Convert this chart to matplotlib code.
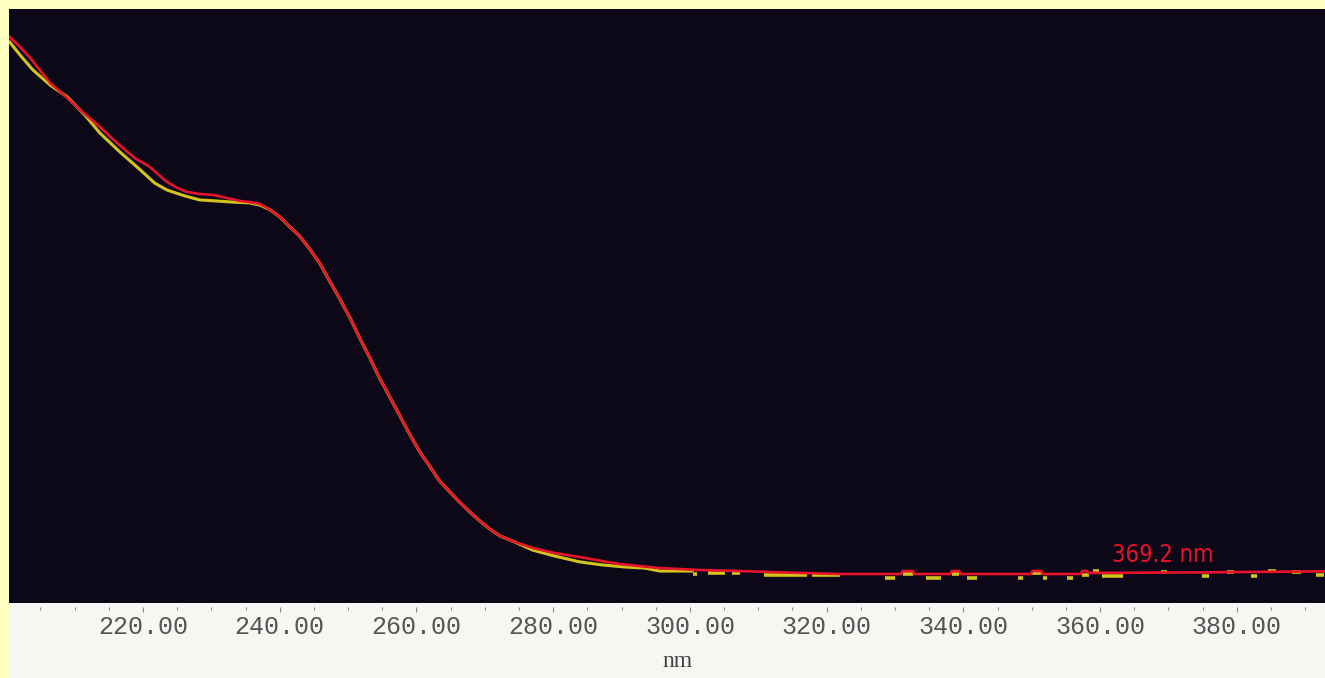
import matplotlib
matplotlib.use("Agg")
import matplotlib.pyplot as plt
from matplotlib.patches import Rectangle
from matplotlib.ticker import MultipleLocator, FormatStrFormatter

# ── data (absorbance in arbitrary units) ──────────────────────────────────────
red_nm = [200.5, 202.0, 203.5, 204.9, 206.4, 208.6, 210.8, 213.7, 216.2, 218.8,
          221.0, 222.5, 223.5, 225.0, 226.4, 228.3, 230.2, 232.3, 234.2, 235.6,
          237.1, 238.6, 240.0, 241.5, 242.9, 244.4, 245.9, 247.3, 248.8, 250.3,
          251.7, 253.2, 254.6, 256.1, 257.6, 259.0, 260.5, 262.0, 263.4, 264.9,
          266.3, 267.8, 269.3, 270.7, 272.2, 274.4, 277.0, 280.2, 283.9, 289.7,
          295.6, 301.4, 307.3, 316.0, 321.9,
          330.9, 331.1, 332.6, 332.8, 338.1, 338.3, 339.4, 339.6, 349.9, 350.1,
          351.4, 351.6, 357.2, 357.4, 358.1, 358.3, 375.0, 392.9]
red_abs = [2.000, 1.963, 1.922, 1.877, 1.829, 1.780, 1.728, 1.665, 1.605, 1.549,
           1.516, 1.482, 1.460, 1.438, 1.423, 1.415, 1.412, 1.400, 1.389, 1.385,
           1.378, 1.356, 1.330, 1.292, 1.259, 1.210, 1.155, 1.091, 1.024, 0.953,
           0.879, 0.804, 0.730, 0.659, 0.588, 0.521, 0.454, 0.399, 0.346, 0.305,
           0.268, 0.231, 0.197, 0.168, 0.142, 0.119, 0.097, 0.078, 0.063, 0.037,
           0.022, 0.015, 0.011, 0.004, 0.000,
           0.000, 0.011, 0.011, 0.000, 0.000, 0.011, 0.011, 0.000, 0.000, 0.011,
           0.011, 0.000, 0.000, 0.011, 0.011, 0.004, 0.006, 0.010]

yel_nm = [200.5, 202.0, 203.9, 206.4, 208.9, 211.5, 213.7, 216.6, 219.6, 221.7,
          223.5, 226.1, 228.3, 230.8, 233.1, 235.6, 237.1, 238.6, 240.0, 241.5,
          242.9, 244.4, 245.9, 247.3, 248.8, 250.3, 251.7, 253.2, 254.6, 256.1,
          257.6, 259.0, 260.5, 262.0, 263.4, 264.9, 266.3, 267.8, 269.3, 270.7,
          272.2, 274.4, 277.0, 280.2, 283.9, 287.1, 290.5, 293.4, 295.6, 300.3]
yel_abs = [1.981, 1.933, 1.877, 1.821, 1.777, 1.709, 1.642, 1.572, 1.505, 1.456,
           1.430, 1.408, 1.393, 1.389, 1.385, 1.382, 1.374, 1.356, 1.330, 1.292,
           1.259, 1.210, 1.155, 1.091, 1.024, 0.953, 0.879, 0.804, 0.730, 0.659,
           0.588, 0.521, 0.454, 0.399, 0.346, 0.305, 0.268, 0.231, 0.197, 0.168,
           0.142, 0.119, 0.089, 0.067, 0.045, 0.034, 0.026, 0.022, 0.011, 0.011]

# noisy tail of the yellow trace: short flat steps (start nm, end nm, level)
tail_start = [300.4, 302.6, 306.1, 310.9, 317.9, 328.5, 331.1, 334.6, 338.3, 340.5,
              348.0, 350.1, 351.6, 355.1, 357.4, 358.9, 360.3, 368.9, 374.9, 378.5,
              382.1, 384.5, 388.1, 391.6]
tail_end = [301.0, 305.1, 307.3, 317.1, 321.9, 330.0, 332.6, 336.8, 339.4, 342.0,
            348.7, 351.4, 352.3, 356.0, 358.4, 359.9, 363.3, 369.8, 375.9, 379.6,
            383.0, 385.8, 389.4, 392.8]
tail_level = [0.000, 0.004, 0.004, -0.004, -0.004, -0.015, 0.000, -0.015, 0.000, -0.015,
              -0.015, 0.004, -0.015, -0.015, -0.004, 0.011, -0.0075, 0.0075, -0.0075, 0.0075,
              -0.0075, 0.011, 0.0075, -0.004]

cursor_nm = 369.2
cursor_label = "369.2 nm"

# ── figure ────────────────────────────────────────────────────────────────────
W, H = 1325, 678
fig = plt.figure(figsize=(W / 100, H / 100), dpi=100, facecolor="#ffffbf")

# white strip carrying the wavelength scale (behind the axes)
fig.patches.append(Rectangle((9 / W, 0), 1 - 9 / W, 75 / H, transform=fig.transFigure,
                             facecolor="#f6f6f2", edgecolor="none", zorder=-5))

ax = fig.add_axes([9 / W, 75 / H, 1316 / W, 594 / H])
ax.set_facecolor("#0c0818")

ax.plot(yel_nm, yel_abs, color="#d2c41c", lw=2.2)
ax.hlines(tail_level, tail_start, tail_end, color="#d2c41c", lw=2.6)
ax.plot(red_nm, red_abs, color="#e8132a", lw=1.9)

ax.text(cursor_nm, 0.045, cursor_label, color="#e8132a", ha="center", va="baseline",
        fontsize=17, fontstretch="condensed", family=["DejaVu Sans"])

ax.set_xlim(200.4, 392.9)
ax.set_ylim(-0.108, 2.104)

ax.xaxis.set_major_locator(MultipleLocator(20))
ax.xaxis.set_minor_locator(MultipleLocator(5))
ax.xaxis.set_major_formatter(FormatStrFormatter("%.2f"))
ax.tick_params(axis="x", which="major", direction="out", length=3.5, width=0.8,
               color="#8a8a8a", pad=2, labelsize=18, labelcolor="#555555",
               labelfontfamily="Liberation Mono")
ax.tick_params(axis="x", which="minor", direction="out", length=2.5, width=0.8,
               color="#8a8a8a")
ax.set_yticks([])
for side in ["top", "left", "right"]:
    ax.spines[side].set_visible(False)
ax.spines["bottom"].set_position(("outward", 3))
ax.spines["bottom"].set_visible(False)

ax.set_xlabel("nm", fontsize=17, color="#404040", family=["Liberation Serif", "DejaVu Serif"])
ax.xaxis.set_label_coords(0.5076, -0.080)

fig.savefig("out.png", dpi=100, facecolor=fig.get_facecolor())
